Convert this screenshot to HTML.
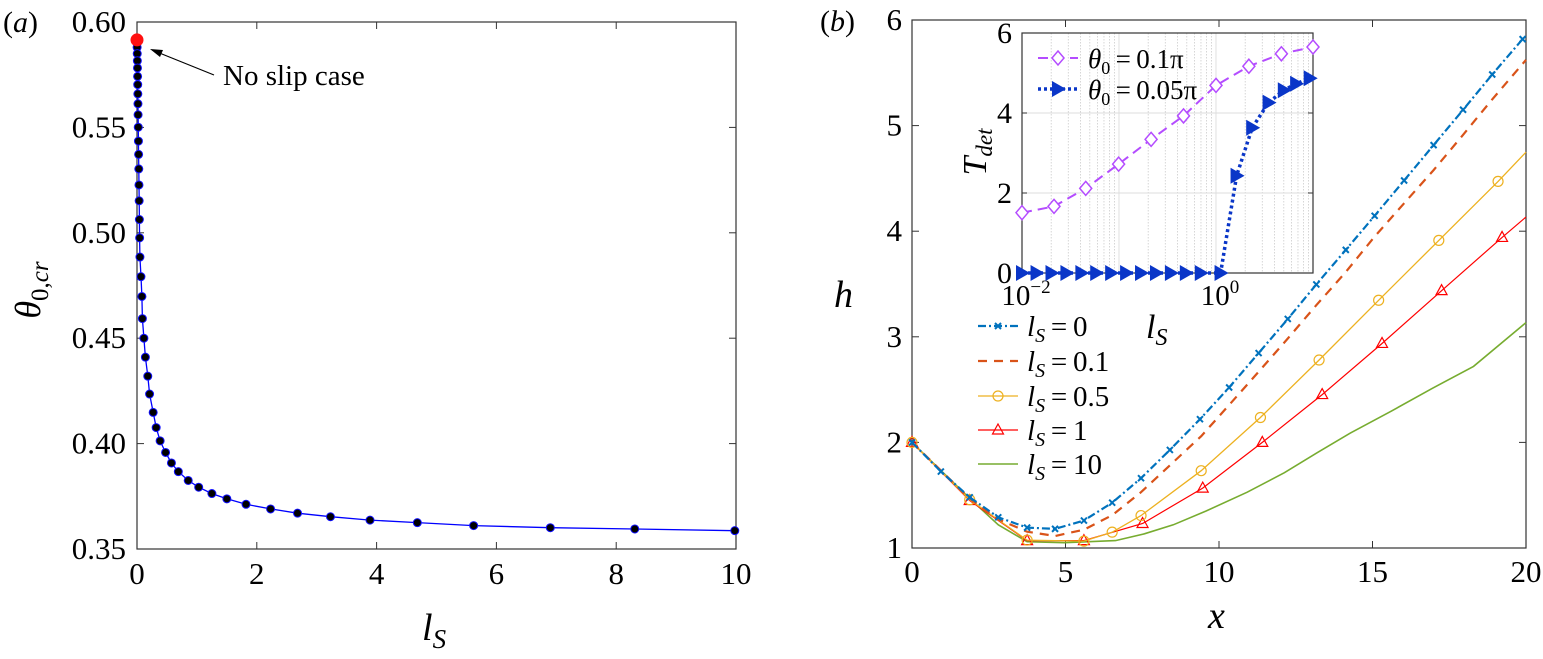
<!DOCTYPE html>
<html><head><meta charset="utf-8"><style>
body{margin:0;background:#fff;}
svg, svg text{font-family:"Liberation Serif","Times New Roman",Times,"DejaVu Serif",serif;}
</style></head><body>
<svg id="fig" width="1543" height="654" viewBox="0 0 1543 654" xmlns="http://www.w3.org/2000/svg">
<g id="pa"></g>
<g id="pb"></g>
<g id="pi"></g>
</svg>
<script>
// Panel (a) data
const aLs = [0,0.002,0.004,0.006,0.008,0.01,0.012,0.014,0.016,0.018,0.021,0.024,0.027,0.03,0.033,0.036,0.04,0.044,0.049,0.066,0.082,0.09,0.115,0.14,0.18,0.21,0.27,0.32,0.386,0.477,0.575,0.69,0.855,1.03,1.25,1.5,1.82,2.23,2.68,3.23,3.89,4.68,5.62,6.9,8.31,9.98];
const aTheta = [0.5915,0.588,0.585,0.5816,0.5782,0.5742,0.5703,0.5659,0.5612,0.556,0.5501,0.5435,0.5372,0.5303,0.5227,0.5152,0.5063,0.4976,0.4885,0.4792,0.4698,0.4593,0.450,0.441,0.432,0.4235,0.4148,0.4076,0.4013,0.3958,0.3908,0.3867,0.3825,0.3793,0.3763,0.3738,0.3712,0.369,0.367,0.3653,0.3637,0.3625,0.3611,0.3601,0.3595,0.3587];
const aXTicks = [0,2,4,6,8,10];
const aYTicks = [0.35,0.40,0.45,0.50,0.55,0.60];
// Panel (b) data
const bX0 = [0,0.94,1.88,2.81,3.75,4.66,5.6,6.52,7.46,8.4,9.38,10.33,11.29,12.24,13.17,14.13,15.07,16.03,16.99,17.95,18.9,19.89];
const bH0 = [2,1.724,1.48,1.291,1.193,1.181,1.26,1.429,1.661,1.929,2.22,2.52,2.846,3.169,3.496,3.823,4.146,4.48,4.815,5.15,5.484,5.819];
const bX01 = [0,1.88,2.81,3.75,4.66,5.6,6.52,7.46,8.4,9.42,10.33,11.29,12.24,13.17,14.13,15.07,16.03,16.99,17.95,18.9,20];
const bH01 = [2,1.469,1.272,1.154,1.114,1.173,1.311,1.528,1.783,2.059,2.354,2.669,2.984,3.299,3.614,3.949,4.264,4.579,4.913,5.248,5.622];
const bX05 = [0,1.88,3.75,5.6,6.52,7.46,9.42,11.35,13.26,15.2,17.16,19.09,20];
const bH05 = [2,1.457,1.075,1.065,1.15,1.307,1.732,2.236,2.78,3.346,3.913,4.472,4.748];
const bX1 = [0,1.88,3.75,5.6,7.51,9.47,11.41,13.36,15.31,17.25,19.22,20];
const bH1 = [2,1.449,1.07,1.07,1.232,1.567,2.0,2.453,2.937,3.437,3.941,4.134];
const bX10 = [0,1.88,2.81,3.75,4.96,6.63,7.57,8.51,9.58,10.92,12.13,13.2,14.27,15.61,16.95,18.29,20];
const bH10 = [2,1.469,1.22,1.06,1.05,1.07,1.134,1.22,1.35,1.528,1.713,1.902,2.087,2.295,2.512,2.72,3.134];
const bXTicks = [0,5,10,15,20];
const bYTicks = [1,2,3,4,5,6];
// Inset data (log10 of l_S)
const iLogD = [-2,-1.67,-1.343,-1.004,-0.669,-0.335,0,0.339,0.674,1];
const iTD = [1.508,1.665,2.115,2.722,3.34,3.927,4.69,5.17,5.48,5.65];
const iLogT = [-2,-1.85,-1.696,-1.542,-1.388,-1.235,-1.081,-0.927,-0.773,-0.619,-0.465,-0.311,-0.157,0.047,0.212,0.373,0.542,0.699,0.826,0.966];
const iTT = [0,0,0,0,0,0,0,0,0,0,0,0,0,0,2.43,3.63,4.26,4.57,4.73,4.87];
const iYTicks = [0,2,4,6];

const NS="http://www.w3.org/2000/svg";
function mk(parent,tag,attrs,text){const e=document.createElementNS(NS,tag);for(const k in attrs)e.setAttribute(k,attrs[k]);if(tag==='text')e.style.fontFamily='"Liberation Serif","Times New Roman",Times,"DejaVu Serif",serif';if(text!==undefined)e.textContent=text;parent.appendChild(e);return e;}
function path(xs,ys,fx,fy){return xs.map((v,i)=>(i?'L':'M')+fx(v).toFixed(1)+' '+fy(ys[i]).toFixed(1)).join(' ');}

// ---------- Panel a ----------
const pa=document.getElementById('pa');
const ax=v=>137+v/10*599, ay=v=>22+(0.60-v)/0.25*527;
let e;
e=mk(pa,'rect',{x:137,y:22,width:599,height:527,fill:'none',stroke:'#333','stroke-width':1.2});

aXTicks.forEach(t=>{mk(pa,'line',{x1:ax(t),x2:ax(t),y1:549,y2:542,stroke:'#333'});mk(pa,'line',{x1:ax(t),x2:ax(t),y1:22,y2:29,stroke:'#333'});
 e=mk(pa,'text',{x:ax(t),y:584,'font-size':31,'text-anchor':'middle'},String(t));});
aYTicks.forEach(t=>{mk(pa,'line',{x1:137,x2:144,y1:ay(t),y2:ay(t),stroke:'#333'});mk(pa,'line',{x1:736,x2:729,y1:ay(t),y2:ay(t),stroke:'#333'});
 e=mk(pa,'text',{x:126,y:ay(t)+10,'font-size':31,'text-anchor':'end'},t.toFixed(2));});
e=mk(pa,'path',{d:path(aLs,aTheta,ax,ay),fill:'none',stroke:'#0000ff','stroke-width':1.3});

aLs.forEach((v,i)=>{if(i===0)return;e=mk(pa,'circle',{cx:ax(v),cy:ay(aTheta[i]),r:4,fill:'#000',stroke:'#1010ff','stroke-width':1});
 });
e=mk(pa,'circle',{cx:ax(aLs[0]),cy:ay(aTheta[0]),r:6.5,fill:'#ff1010'});

e=mk(pa,'line',{x1:214,y1:75,x2:152,y2:50,stroke:'#000','stroke-width':1.2});

mk(pa,'path',{d:'M150 49 L163 50 L160 57 Z',fill:'#000'});
e=mk(pa,'text',{x:223,y:85,'font-size':29},'No slip case');
e=mk(pa,'text',{x:3,y:32,'font-size':30,'font-style':'italic'},'');
e.innerHTML='<tspan font-style="normal">(</tspan>a<tspan font-style="normal">)</tspan>';
e=mk(pa,'text',{x:0,y:0,'font-size':36,'font-style':'italic',transform:'translate(40,290) rotate(-90)','text-anchor':'middle'},'');

e.innerHTML='θ<tspan font-size="25" dy="8" font-style="normal">0,</tspan><tspan font-size="25">cr</tspan>';
e=mk(pa,'text',{x:422,y:640,'font-size':38,'font-style':'italic'},'');

e.innerHTML='l<tspan font-size="27" dy="8">S</tspan>';

// ---------- Panel b ----------
const pb=document.getElementById('pb');
const bx=v=>912+v/20*614, by=v=>548-(v-1)*105.6;
e=mk(pb,'rect',{x:912,y:20,width:614,height:528,fill:'none',stroke:'#333','stroke-width':1.2});

bXTicks.forEach(t=>{mk(pb,'line',{x1:bx(t),x2:bx(t),y1:548,y2:541,stroke:'#333'});mk(pb,'line',{x1:bx(t),x2:bx(t),y1:20,y2:27,stroke:'#333'});
 e=mk(pb,'text',{x:bx(t),y:582,'font-size':31,'text-anchor':'middle'},String(t));});
bYTicks.forEach(t=>{mk(pb,'line',{x1:912,x2:919,y1:by(t),y2:by(t),stroke:'#333'});mk(pb,'line',{x1:1526,x2:1519,y1:by(t),y2:by(t),stroke:'#333'});
 e=mk(pb,'text',{x:902,y:by(t)+10,'font-size':31,'text-anchor':'end'},String(t));});
const series=[
 {xs:bX10,ys:bH10,c:'#77ac30',dash:'',w:1.6,m:null,name:'ls-10'},
 {xs:bX1,ys:bH1,c:'#ff0000',dash:'',w:1.2,m:'tri',name:'ls-1'},
 {xs:bX05,ys:bH05,c:'#edb120',dash:'',w:1.3,m:'circ',name:'ls-0.5'},
 {xs:bX01,ys:bH01,c:'#d95319',dash:'9 7',w:2.2,m:null,name:'ls-0.1'},
 {xs:bX0,ys:bH0,c:'#0072bd',dash:'8 3 2 3',w:2.2,m:'x',name:'ls-0'}];
function marker(g,type,x,y,c){
 if(type==='tri')return mk(g,'path',{d:`M${x} ${y-6} L${x+5.5} ${y+4} L${x-5.5} ${y+4} Z`,fill:'none',stroke:c,'stroke-width':1.2});
 if(type==='circ')return mk(g,'circle',{cx:x,cy:y,r:5,fill:'none',stroke:c,'stroke-width':1.2});
 if(type==='x')return mk(g,'path',{d:`M${x-3} ${y-3} L${x+3} ${y+3} M${x-3} ${y+3} L${x+3} ${y-3}`,stroke:c,'stroke-width':2});
}
series.forEach(s=>{e=mk(pb,'path',{d:path(s.xs,s.ys,bx,by),fill:'none',stroke:s.c,'stroke-width':s.w,'stroke-dasharray':s.dash});
 
 if(s.m)s.xs.forEach((v,i)=>{if(s.m!=='x'&&i===s.xs.length-1&&v===20)return;e=marker(pb,s.m,bx(v),by(s.ys[i]),s.c);
  });});
// legend
const legY=[326,361,396,430,464];
const legLab=['0','0.1','0.5','1','10'];
const legS=[series[4],series[3],series[2],series[1],series[0]];
legS.forEach((s,i)=>{const y=legY[i];
 e=mk(pb,'line',{x1:978,x2:1018,y1:y,y2:y,stroke:s.c,'stroke-width':s.w,'stroke-dasharray':s.dash});
 
 if(s.m){e=marker(pb,s.m,998,y,s.c);}
 e=mk(pb,'text',{x:1027,y:y+10,'font-size':29},'');
 e.innerHTML='<tspan font-style="italic">l</tspan><tspan font-style="italic" font-size="20" dy="6">S</tspan><tspan dy="-6">\u2009=\u2009'+legLab[i]+'</tspan>';});
e=mk(pb,'text',{x:820,y:31,'font-size':30,'font-style':'italic'},'');
e.innerHTML='<tspan font-style="normal">(</tspan>b<tspan font-style="normal">)</tspan>';
e=mk(pb,'text',{x:834,y:307,'font-size':38,'font-style':'italic'},'h');
e=mk(pb,'text',{x:1208,y:628,'font-size':38,'font-style':'italic'},'x');

// ---------- Inset ----------
const pi=document.getElementById('pi');
const ix=l=>1022+(l+2)/3*291, iy=v=>273-v/6*240;
e=mk(pi,'rect',{x:1022,y:33,width:291,height:240,fill:'#fff',stroke:'none'});

for(let d=-2;d<1;d++)for(let k=1;k<10;k++){const xx=ix(d+Math.log10(k));
 mk(pi,'line',{x1:xx,x2:xx,y1:33,y2:273,stroke:k===1?'#d8d8d8':'#cccccc','stroke-width':0.8,'stroke-dasharray':k===1?'':'1.5 1.5'});}
iYTicks.forEach(t=>{if(t>0&&t<6)mk(pi,'line',{x1:1022,x2:1313,y1:iy(t),y2:iy(t),stroke:'#dddddd','stroke-width':1});
 mk(pi,'line',{x1:1022,x2:1027,y1:iy(t),y2:iy(t),stroke:'#333'});mk(pi,'line',{x1:1313,x2:1308,y1:iy(t),y2:iy(t),stroke:'#333'});
 e=mk(pi,'text',{x:1012,y:iy(t)+10,'font-size':30,'text-anchor':'end'},String(t));});
[-2,0].forEach(l=>{e=mk(pi,'text',{x:ix(l)+4,y:305,'font-size':29,'text-anchor':'middle'},'');
 e.innerHTML='10<tspan font-size="19" dy="-12">'+(l===0?'0':'−2')+'</tspan>';});
e=mk(pi,'rect',{x:1022,y:33,width:291,height:240,fill:'none',stroke:'#333','stroke-width':1.2});

e=mk(pi,'path',{d:path(iLogD,iTD,ix,iy),fill:'none',stroke:'#b44cff','stroke-width':2,'stroke-dasharray':'10 6'});

iLogD.forEach((l,i)=>{const x=ix(l),y=iy(iTD[i]);e=mk(pi,'path',{d:`M${x} ${y-7} L${x+6} ${y} L${x} ${y+7} L${x-6} ${y} Z`,fill:'#fff',stroke:'#b44cff','stroke-width':1.5});
 });
e=mk(pi,'path',{d:path(iLogT,iTT,ix,iy),fill:'none',stroke:'#0a36c8','stroke-width':3.5,'stroke-dasharray':'3 3'});

iLogT.forEach((l,i)=>{const x=ix(l),y=iy(iTT[i]);e=mk(pi,'path',{d:`M${x-6} ${y-8} L${x+8} ${y} L${x-6} ${y+8} Z`,fill:'#0a36c8'});
 });
// inset legend
e=mk(pi,'line',{x1:1038,x2:1078,y1:58,y2:58,stroke:'#b44cff','stroke-width':2,'stroke-dasharray':'10 6'});
mk(pi,'path',{d:'M1058 51 L1064 58 L1058 65 L1052 58 Z',fill:'#fff',stroke:'#b44cff','stroke-width':1.5});
e=mk(pi,'line',{x1:1038,x2:1078,y1:89,y2:89,stroke:'#0a36c8','stroke-width':3.5,'stroke-dasharray':'3 3'});
mk(pi,'path',{d:'M1052 81 L1066 89 L1052 97 Z',fill:'#0a36c8'});
e=mk(pi,'text',{x:1088,y:68,'font-size':27},'');
e.innerHTML='<tspan font-style="italic">θ</tspan><tspan font-size="18" dy="6">0</tspan><tspan dy="-6">\u2009=\u20090.1π</tspan>';
e=mk(pi,'text',{x:1088,y:99,'font-size':27},'');
e.innerHTML='<tspan font-style="italic">θ</tspan><tspan font-size="18" dy="6">0</tspan><tspan dy="-6">\u2009=\u20090.05π</tspan>';
e=mk(pi,'text',{x:0,y:0,'font-size':34,'font-style':'italic',transform:'translate(986,152) rotate(-90)','text-anchor':'middle'},'');

e.innerHTML='T<tspan font-size="23" dy="6">det</tspan>';
e=mk(pi,'text',{x:1146,y:338,'font-size':34,'font-style':'italic'},'');

e.innerHTML='l<tspan font-size="24" dy="7">S</tspan>';
</script>
</body></html>
